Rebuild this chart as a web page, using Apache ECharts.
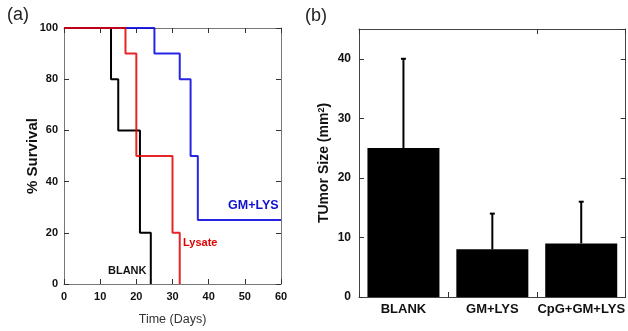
<!DOCTYPE html>
<html><head><meta charset="utf-8">
<script src="https://cdn.jsdelivr.net/npm/echarts@6/dist/echarts.min.js"></script>
<style>html,body{margin:0;padding:0;background:#fff}#c{width:628px;height:331px}</style>
</head><body><div id="c"></div>
<script>
// Survival data (a)
const blankDays = [0, 13, 15, 21, 24];
const blankSurv = [100, 80, 60, 20, 0];
const lysateDays = [0, 17, 20, 30, 32];
const lysateSurv = [100, 90, 50, 20, 0];
const gmDays = [0, 25, 32, 35, 37, 60];
const gmSurv = [100, 90, 80, 50, 25, 25];
// Tumor size (b)
const groups = ['BLANK', 'GM+LYS', 'CpG+GM+LYS'];
const tumorMean = [25, 8, 9];
const tumorErr = [15, 6, 7];

const zip = (a, b) => a.map((v, i) => [v, b[i]]);
const frameL = '#777';
const frameR = '#444';
const sans = '"Liberation Sans", Arial, sans-serif';

const chart = echarts.init(document.getElementById('c'), null, {renderer: 'canvas'});
const tick = c => ({show: true, inside: true, length: 5, lineStyle: {color: c}});
const line = c => ({show: true, onZero: false, lineStyle: {color: c}});
chart.setOption({
  animation: false,
  grid: [
    {left: 64, right: 347, top: 28, bottom: 45},
    {left: 359, right: 2, top: 29, bottom: 34}
  ],
  xAxis: [
    {gridIndex: 0, type: 'value', min: 0, max: 60, interval: 10,
     name: 'Time (Days)', nameLocation: 'middle', nameGap: 29,
     nameTextStyle: {fontFamily: sans, fontSize: 12.5, color: '#333'},
     axisLine: line(frameL), axisTick: tick('#333'),
     axisLabel: {fontFamily: sans, fontWeight: 'bold', fontSize: 11, color: '#111', margin: 7},
     splitLine: {show: false}},
    {gridIndex: 0, type: 'value', position: 'top', min: 0, max: 60, interval: 10,
     axisLine: line(frameL), axisTick: tick('#333'),
     axisLabel: {show: false}, splitLine: {show: false}},
    {gridIndex: 1, type: 'category', data: groups,
     axisLine: line(frameR), axisTick: tick('#333'),
     axisLabel: {fontFamily: sans, fontWeight: 'bold', fontSize: 13, color: '#111', margin: 6, interval: 0}},
    {gridIndex: 1, type: 'category', data: groups, position: 'top',
     axisLine: line(frameR), axisTick: tick('#333'),
     axisLabel: {show: false}}
  ],
  yAxis: [
    {gridIndex: 0, type: 'value', min: 0, max: 100, interval: 20,
     name: '% Survival', nameLocation: 'middle', nameGap: 24, nameMoveOverlap: false,
     nameTextStyle: {fontFamily: sans, fontWeight: 'bold', fontSize: 15, color: '#111'},
     axisLine: line(frameL), axisTick: tick('#333'),
     axisLabel: {fontFamily: sans, fontWeight: 'bold', fontSize: 11, color: '#111', margin: 6},
     splitLine: {show: false}},
    {gridIndex: 0, type: 'value', position: 'right', min: 0, max: 100, interval: 20,
     axisLine: line(frameL), axisTick: tick('#333'),
     axisLabel: {show: false}, splitLine: {show: false}},
    {gridIndex: 1, type: 'value', min: 0, max: 45, interval: 10,
     name: 'TUmor Size (mm{s|2})', nameLocation: 'middle', nameGap: 27,
     nameTextStyle: {fontFamily: sans, fontWeight: 'bold', fontSize: 14, color: '#111',
       rich: {s: {fontFamily: sans, fontWeight: 'bold', fontSize: 9, verticalAlign: 'top', color: '#111', padding: [0, 0, 6, 0]}}},
     axisLine: line(frameR), axisTick: tick('#333'),
     axisLabel: {fontFamily: sans, fontWeight: 'bold', fontSize: 12, color: '#111', margin: 8, showMaxLabel: false},
     splitLine: {show: false}},
    {gridIndex: 1, type: 'value', position: 'right', min: 0, max: 45, interval: 10,
     axisLine: line(frameR), axisTick: tick('#333'),
     axisLabel: {show: false}, splitLine: {show: false}}
  ],
  series: [
    {type: 'line', xAxisIndex: 0, yAxisIndex: 0, step: 'end', data: zip(blankDays, blankSurv),
     symbol: 'none', lineStyle: {color: '#000', width: 2}},
    {type: 'line', xAxisIndex: 0, yAxisIndex: 0, step: 'end', data: zip(gmDays, gmSurv),
     symbol: 'none', lineStyle: {color: '#0000dd', width: 2, opacity: 0.85}},
    {type: 'line', xAxisIndex: 0, yAxisIndex: 0, step: 'end', data: zip(lysateDays, lysateSurv),
     symbol: 'none', lineStyle: {color: '#e00000', width: 2, opacity: 0.85}},
    {type: 'bar', xAxisIndex: 2, yAxisIndex: 2, data: tumorMean, barWidth: '81%',
     itemStyle: {color: '#000'}},
    {type: 'custom', xAxisIndex: 2, yAxisIndex: 2, z: 5,
     data: tumorMean.map((m, i) => [i, m, m + tumorErr[i]]),
     renderItem: function (params, api) {
       const lo = api.coord([api.value(0), api.value(1)]);
       const hi = api.coord([api.value(0), api.value(2)]);
       return {type: 'group', children: [
         {type: 'line', shape: {x1: lo[0], y1: lo[1], x2: hi[0], y2: hi[1]}, style: {stroke: '#000', lineWidth: 2}},
         {type: 'line', shape: {x1: hi[0] - 2.5, y1: hi[1], x2: hi[0] + 2.5, y2: hi[1]}, style: {stroke: '#000', lineWidth: 2}}
       ]};
     }}
  ],
  graphic: [
    {type: 'text', left: 7, top: 6, style: {text: '(a)', font: '18px ' + sans, fill: '#222'}},
    {type: 'text', left: 305, top: 7, style: {text: '(b)', font: '18px ' + sans, fill: '#222'}},
    {type: 'text', left: 228, top: 199, style: {text: 'GM+LYS', font: 'bold 12.5px ' + sans, fill: '#1010d0'}},
    {type: 'text', left: 183, top: 237, style: {text: 'Lysate', font: 'bold 11px ' + sans, fill: '#e00000'}},
    {type: 'text', left: 108, top: 265, style: {text: 'BLANK', font: 'bold 11px ' + sans, fill: '#111'}}
  ]
});
</script></body></html>
